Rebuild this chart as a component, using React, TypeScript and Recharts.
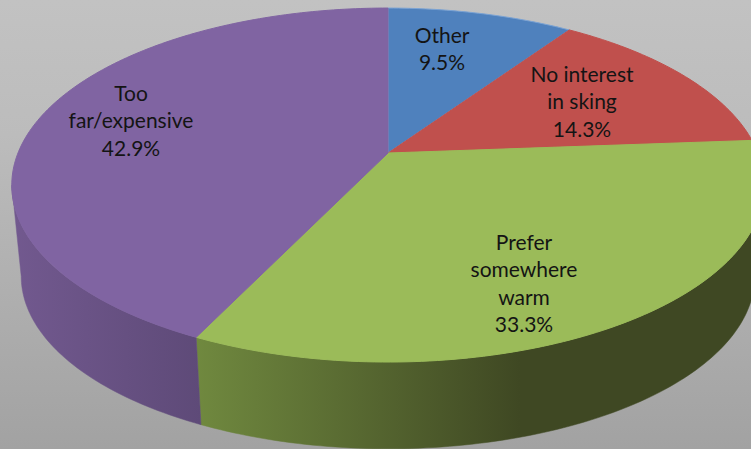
import React from "react";
import { PieChart, Pie } from "recharts";

const categories = ["Other", "No interest in sking", "Prefer somewhere warm", "Too far/expensive"];
const responses = [2, 3, 7, 9];
const labelLines = [["Other"], ["No interest", "in sking"], ["Prefer", "somewhere", "warm"], ["Too", "far/expensive"]];
const topColors = ["#4f81bd", "#c0504d", "#9bbb59", "#8064a2"];
const topStrokes = ["#7ba3d4", "#c0504d", "#9bbb59", "#8064a2"];
const sideFills = ["#3b618e", "#90393a", "url(#greenSide)", "url(#purpleSide)"];

const W = 751;
const H = 449;
const CX = 388;
const CY = 153;
const R = 370;
const ASPECT = 0.4627;
const TILT = 0.181;
const BOTTOM_SCALE = 0.975;
const BOTTOM_DROP = 92;
const TANGENT = (Math.asin(TILT) * 180) / Math.PI;
const LABEL_CENTERS = [
  [442, 34],
  [582, 73],
  [524, 241],
  [131, 92],
];
const LINE_HEIGHT = 27.4;

const data = categories.map((name, i) => ({
  name,
  value: responses[i],
  index: i,
  lines: labelLines[i],
  fill: topColors[i],
  edge: topStrokes[i],
  sideFill: sideFills[i],
}));

function project(cx: number, cy: number, r: number, deg: number) {
  const a = (deg * Math.PI) / 180;
  const u = Math.cos(a);
  const v = Math.sin(a);
  const w = 1 + TILT * v;
  return [cx + (r * u) / w, cy - (r * ASPECT * v) / w];
}

function angles(from: number, to: number) {
  const n = Math.max(2, Math.ceil(Math.abs(to - from)));
  const out: number[] = [];
  for (let i = 0; i <= n; i++) out.push(from + ((to - from) * i) / n);
  return out;
}

const toPath = (pts: number[][]) =>
  "M" + pts.map((p) => `${p[0].toFixed(2)},${p[1].toFixed(2)}`).join("L") + "Z";

function TopSlice(props: any) {
  const { cx, cy, outerRadius, startAngle, endAngle, fill, payload } = props;
  const pts = [[cx, cy], ...angles(startAngle, endAngle).map((d) => project(cx, cy, outerRadius, d))];
  return <path d={toPath(pts)} fill={fill} stroke={payload.edge} strokeWidth={1} />;
}

function SideSlice(props: any) {
  const { cx, cy, outerRadius, startAngle, endAngle, payload } = props;
  // only the part of the wall that faces the viewer
  const from = Math.min(startAngle, -TANGENT);
  const to = Math.max(endAngle, -180 + TANGENT);
  if (from <= to) return <g />;
  const list = angles(from, to);
  const rBottom = outerRadius * BOTTOM_SCALE;
  const top = list.map((d) => project(cx, cy, outerRadius, d));
  const bottom = [...list].reverse().map((d) => project(cx, cy + BOTTOM_DROP, rBottom, d));
  const fill = payload.sideFill;
  return <path d={toPath([...top, ...bottom])} fill={fill} stroke={fill} strokeWidth={0.5} />;
}

function SliceLabel(props: any) {
  const { index, percent } = props;
  const [x, y] = LABEL_CENTERS[index];
  const lines: string[] = data[index].lines;
  return (
    <text
      x={x}
      y={y}
      textAnchor="middle"
      dominantBaseline="central"
      fontFamily="Lato, 'Noto Sans', sans-serif"
      fontSize={21}
      fill="#141414"
    >
      {[...lines, `${(percent * 100).toFixed(1)}%`].map((t, i) => (
        <tspan key={i} x={x} y={y + i * LINE_HEIGHT}>
          {t}
        </tspan>
      ))}
    </text>
  );
}

export default function App() {
  return (
    <div
      style={{
        position: "absolute",
        left: 0,
        top: 0,
        width: W,
        height: H,
        overflow: "hidden",
        background: "linear-gradient(180deg, #c2c2c2 0%, #bcbcbc 30%, #a2a2a2 100%)",
      }}
    >
      <PieChart width={W} height={H} margin={{ top: 0, right: 0, bottom: 0, left: 0 }}>
        <defs>
          <linearGradient id="purpleSide" gradientUnits="userSpaceOnUse" x1={12} y1={0} x2={201} y2={0}>
            <stop offset="0%" stopColor="#72598f" />
            <stop offset="100%" stopColor="#5e4a78" />
          </linearGradient>
          <linearGradient id="greenSide" gradientUnits="userSpaceOnUse" x1={196} y1={0} x2={520} y2={0}>
            <stop offset="0%" stopColor="#70893f" />
            <stop offset="100%" stopColor="#3f4823" />
          </linearGradient>
        </defs>
        <Pie
          data={data}
          dataKey="value"
          nameKey="name"
          cx={CX}
          cy={CY}
          outerRadius={R}
          startAngle={90}
          endAngle={-270}
          paddingAngle={0}
          stroke="none"
          shape={SideSlice}
          isAnimationActive={false}
        />
        <Pie
          data={data}
          dataKey="value"
          nameKey="name"
          cx={CX}
          cy={CY}
          outerRadius={R}
          startAngle={90}
          endAngle={-270}
          paddingAngle={0}
          stroke="none"
          shape={TopSlice}
          label={SliceLabel}
          labelLine={false}
          isAnimationActive={false}
        />
      </PieChart>
    </div>
  );
}
